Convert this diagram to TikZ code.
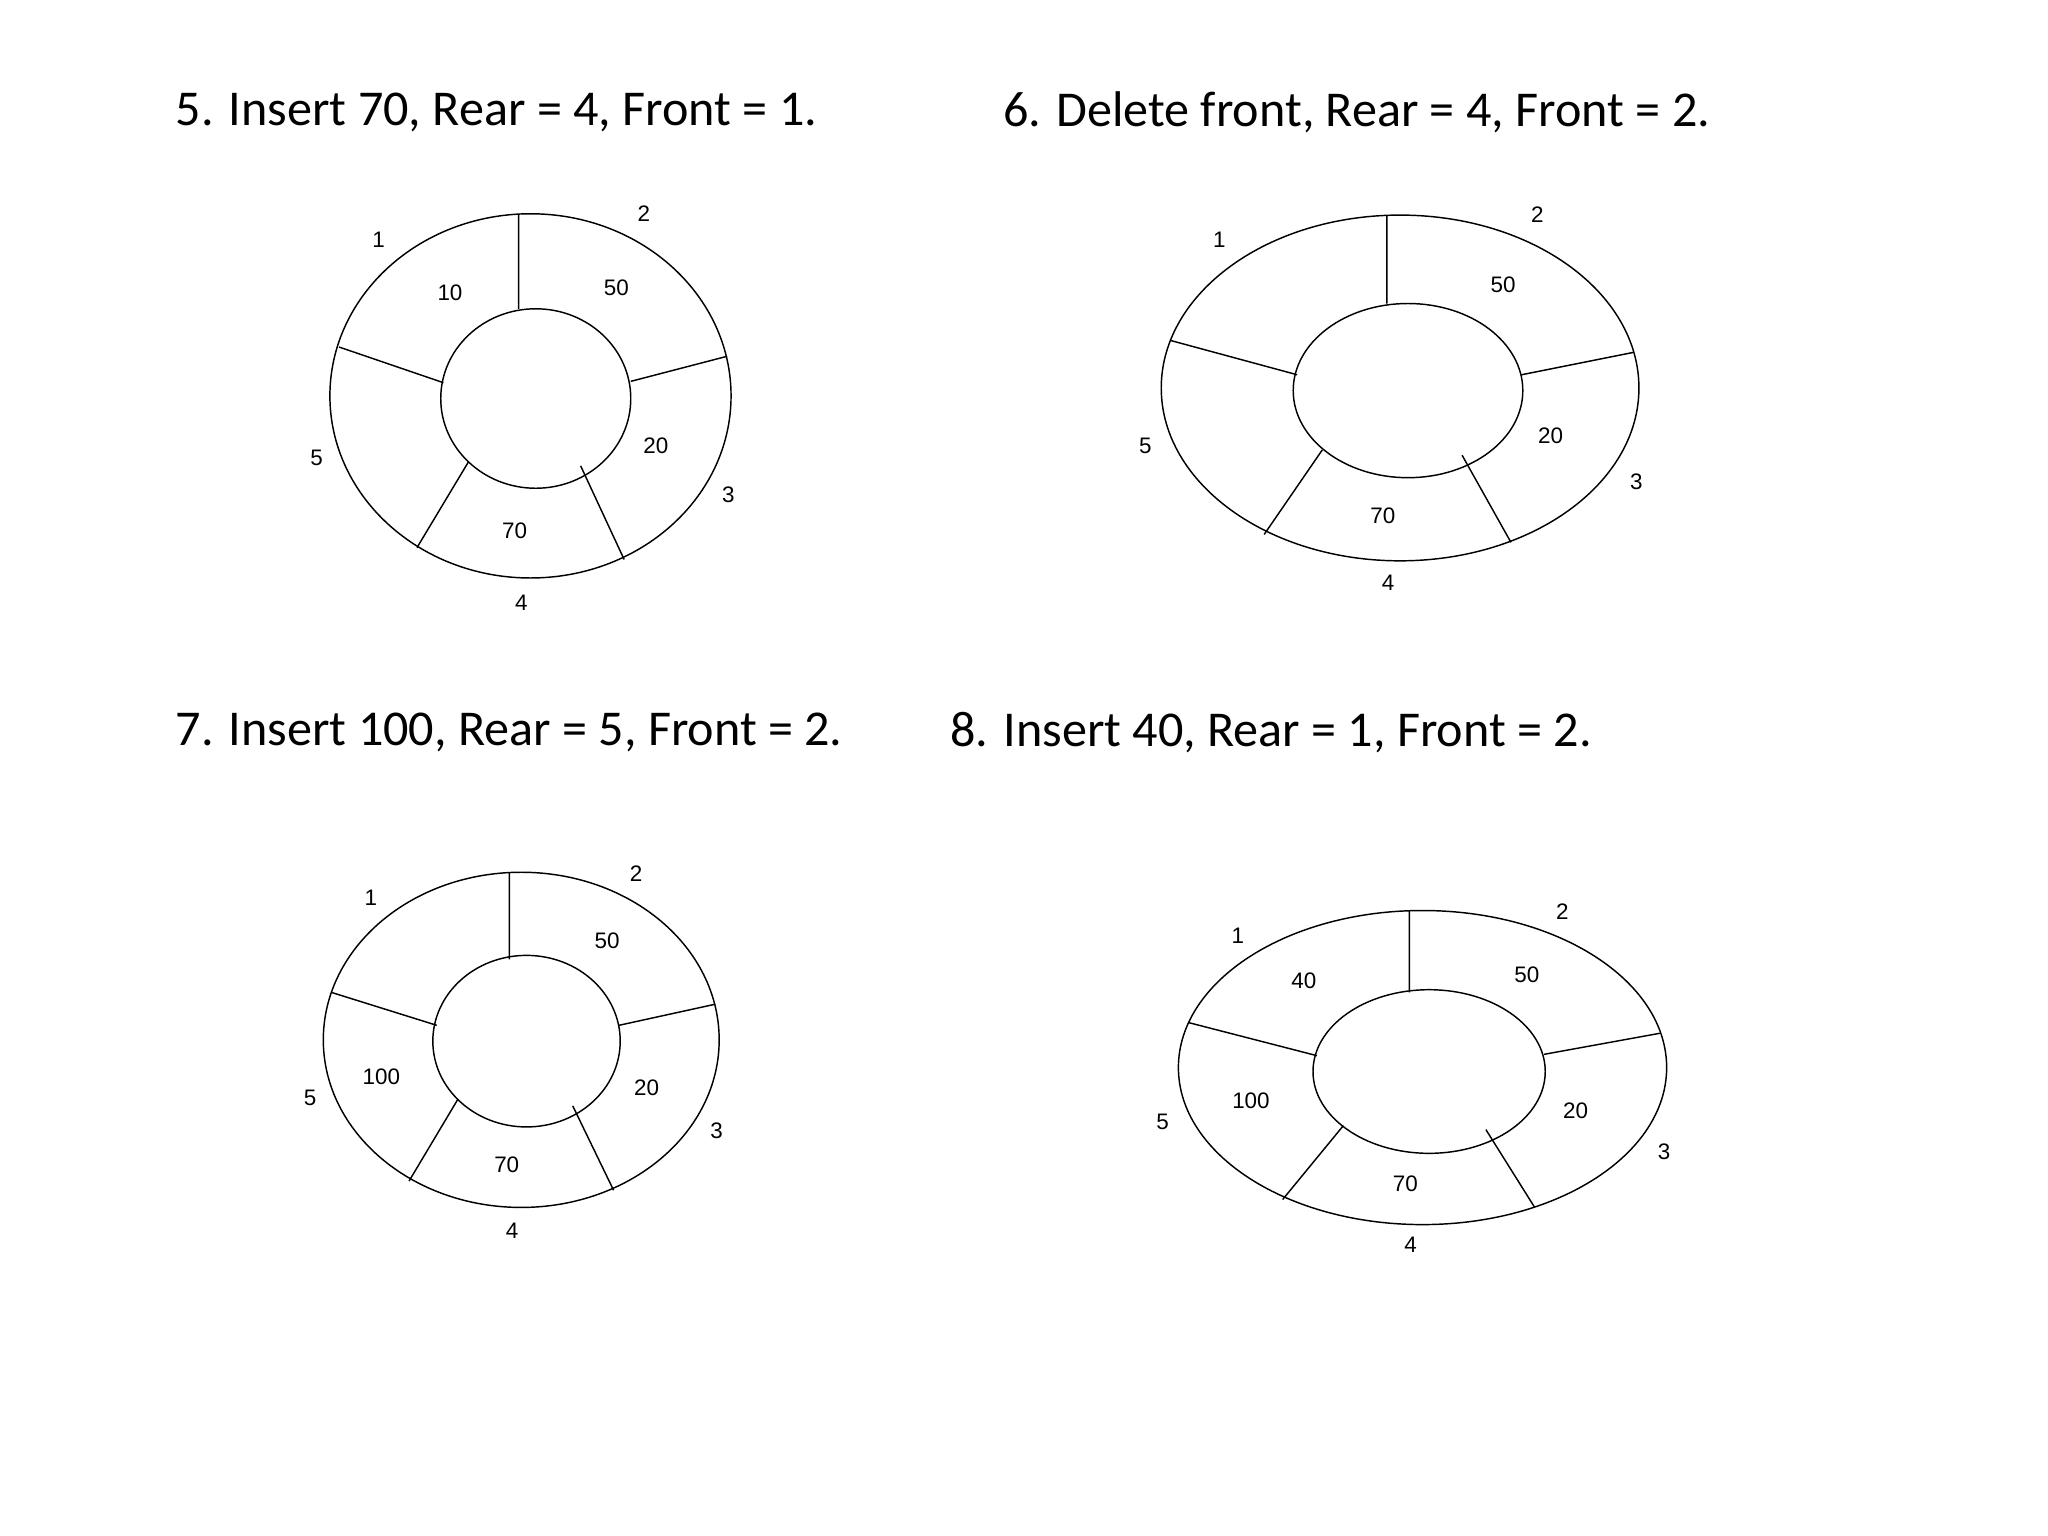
\documentclass[tikz,border=0pt]{standalone}
\usepackage{fontspec}
\setmainfont{Carlito}
\newfontfamily\lblfont{Liberation Sans}
\begin{document}
\begin{tikzpicture}[x=1pt,y=-1pt,
  ttl/.style={anchor=west,inner sep=0pt,font=\fontsize{38}{42}\selectfont},
  lbl/.style={inner sep=0pt,font=\lblfont\fontsize{17}{19}\selectfont},
  ring/.style={draw,line width=1.1pt}]
\useasboundingbox (0,0) rectangle (1552,1164);
\fill[white] (0,0) rectangle (1552,1164);
\node[ttl] (t5) at (133,85) {5. Insert 70, Rear = 4, Front = 1.};
\node[ttl] (t6) at (760,85) {6. Delete front, Rear = 4, Front = 2.};
\node[ttl] (t7) at (133,555) {7. Insert 100, Rear = 5, Front = 2.};
\node[ttl] (t8) at (720,555) {8. Insert 40, Rear = 1, Front = 2.};
% ring 1
\draw[ring] (402,300) ellipse [x radius=152,y radius=138];
\draw[ring] (406,302) ellipse [x radius=72,y radius=68];
\draw[ring] (393,162)--(393,234) (257,263)--(336,290) (478,289)--(551,270) (355,350)--(316,415) (440,353)--(473,424);
\node[lbl] (a1) at (287,182) {1}; \node[lbl] (a2) at (488,162) {2}; \node[lbl] (a3) at (552,375) {3};
\node[lbl] (a4) at (395,457) {4}; \node[lbl] (a5) at (240,347) {5};
\node[lbl] (av1) at (341,222) {10}; \node[lbl] (av2) at (467,218) {50}; \node[lbl] (av3) at (497,338) {20}; \node[lbl] (av4) at (390,402) {70};
% ring 2
\draw[ring] (1061,294) ellipse [x radius=181,y radius=131];
\draw[ring] (1067,296) ellipse [x radius=87,y radius=66];
\draw[ring] (1051,163)--(1051,230) (887,258)--(983,284) (1153,284)--(1238,267) (1002,341)--(958,405) (1108,345)--(1145,411);
\node[lbl] (b1) at (924,182) {1}; \node[lbl] (b2) at (1165,163) {2}; \node[lbl] (b3) at (1240,365) {3};
\node[lbl] (b4) at (1052,442) {4}; \node[lbl] (b5) at (868,338) {5};
\node[lbl] (bv2) at (1139,216) {50}; \node[lbl] (bv3) at (1175,330) {20}; \node[lbl] (bv4) at (1048,391) {70};
% ring 3
\draw[ring] (395,788) ellipse [x radius=150,y radius=127];
\draw[ring] (399,789) ellipse [x radius=71,y radius=65];
\draw[ring] (386,661)--(386,727) (251,752)--(331,777) (469,777)--(542,761) (347,833)--(310,895) (434,838)--(465,902);
\node[lbl] (c1) at (281,680) {1}; \node[lbl] (c2) at (482,662) {2}; \node[lbl] (c3) at (543,857) {3};
\node[lbl] (c4) at (388,933) {4}; \node[lbl] (c5) at (235,832) {5};
\node[lbl] (cv2) at (460,713) {50}; \node[lbl] (cv5) at (289,816) {100}; \node[lbl] (cv3) at (490,824) {20}; \node[lbl] (cv4) at (384,883) {70};
% ring 4
\draw[ring] (1078,809) ellipse [x radius=185,y radius=119];
\draw[ring] (1083,812) ellipse [x radius=88,y radius=62];
\draw[ring] (1068,690)--(1068,752) (901,775)--(998,800) (1170,799)--(1258,783) (1018,853)--(972,909) (1126,856)--(1163,915);
\node[lbl] (d1) at (938,709) {1}; \node[lbl] (d2) at (1184,691) {2}; \node[lbl] (d3) at (1261,873) {3};
\node[lbl] (d4) at (1069,943) {4}; \node[lbl] (d5) at (881,850) {5};
\node[lbl] (dv1) at (988,743) {40}; \node[lbl] (dv2) at (1157,739) {50}; \node[lbl] (dv5) at (948,834) {100}; \node[lbl] (dv3) at (1194,842) {20}; \node[lbl] (dv4) at (1065,897) {70};
\end{tikzpicture}
\end{document}
